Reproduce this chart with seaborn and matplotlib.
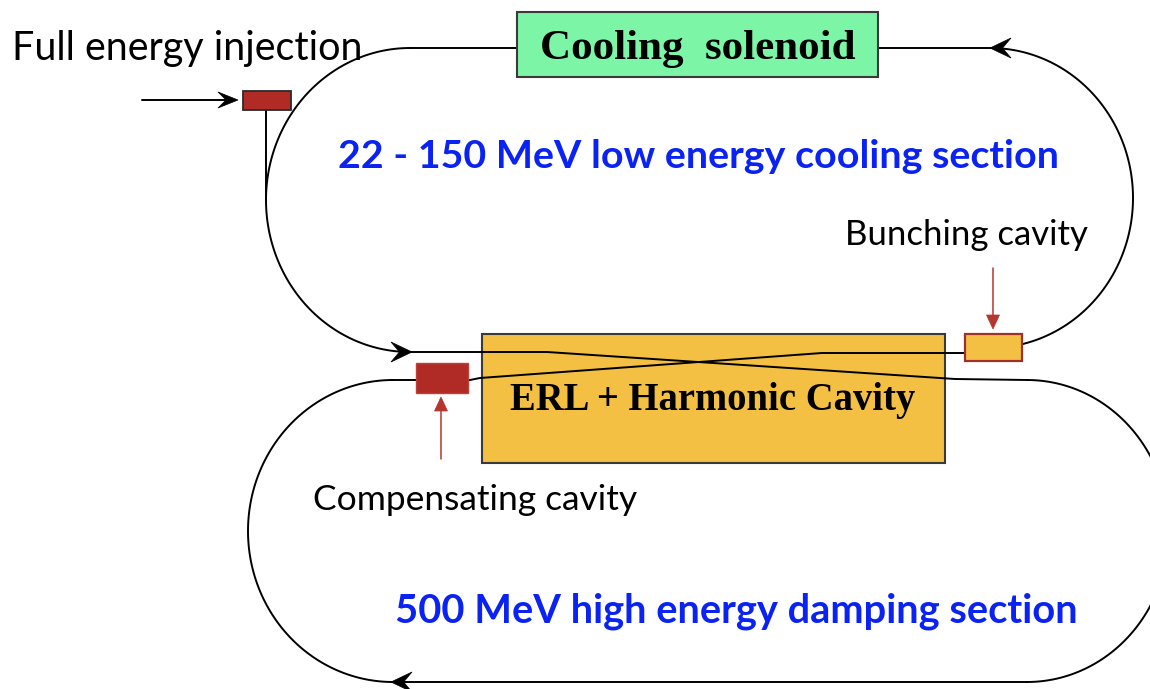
import numpy as np
import matplotlib
matplotlib.use("Agg")
import matplotlib.pyplot as plt
from matplotlib.patches import Rectangle, Polygon
import seaborn as sns

# 文字标签（内容）
label_inject = "Full energy injection"
label_solenoid = "Cooling  solenoid"
label_low = "22 - 150 MeV low energy cooling section"
label_bunch = "Bunching cavity"
label_erl = "ERL + Harmonic Cavity"
label_comp = "Compensating cavity"
label_high = "500 MeV high energy damping section"

# 颜色
c_blue = "#0A22F2"
c_red = "#B02A26"
c_orange = "#F4C043"
c_green = "#7CF5A6"
c_arrow_red = "#B5362E"

sns.set_theme(style="white")
plt.rcParams["font.family"] = ["Lato", "DejaVu Sans"]

fig = plt.figure(figsize=(11.5, 6.89), dpi=100)
ax = fig.add_axes([0, 0, 1, 1])
ax.set_xlim(0, 1150)
ax.set_ylim(689, 0)
ax.axis("off")


def track(xs, ys):
    sns.lineplot(x=np.asarray(xs, float), y=np.asarray(ys, float), sort=False,
                 estimator=None, color="black", lw=1.4, ax=ax, zorder=4)


def arc(cx, cy, rx, ry, a0, a1, n=120):
    t = np.radians(np.linspace(a0, a1, n))
    return cx + rx * np.cos(t), cy + ry * np.sin(t)


def stealth(x, y, ang, length=21, half=10, notch=0.6, color="black"):
    # 箭头：ang 为指向角度（度，像素坐标系，y 向下）
    a = np.radians(ang)
    d = np.array([np.cos(a), np.sin(a)])
    p = np.array([-d[1], d[0]])
    tip = np.array([x, y])
    back = tip - d * length
    pts = [tip, back + p * half, tip - d * length * notch, back - p * half]
    ax.add_patch(Polygon(pts, closed=True, fc=color, ec=color, lw=0.5, zorder=6))


def small_arrow(x, y0, y1, color):
    # 红色小箭头：从 y0 指向 y1
    sgn = 1 if y1 > y0 else -1
    ax.plot([x, x], [y0, y1 - sgn * 10], color=color, lw=1.1, zorder=5)
    ax.add_patch(Polygon([[x, y1], [x - 6.5, y1 - sgn * 14], [x + 6.5, y1 - sgn * 14]],
                         closed=True, fc=color, ec=color, lw=0.5, zorder=6))


# ---- 上环（低能冷却段） ----
track([410, 517], [48, 48])
track([878, 992], [48, 48])
x, y = arc(410, 200, 144, 152, 270, 90)
track(x, y)
stealth(412, 352, 0)
x, y = arc(990, 198, 143, 150, -90, 77)
track(x, y)
stealth(990, 48, 180)

# ---- 交叉直线段（ERL 内） ----
track([410, 547, 955, 1027], [352, 352, 379, 380])
track([390, 470, 480, 822, 965], [380, 380, 378, 353, 353])

# ---- 下环（高能阻尼段） ----
x, y = arc(393, 531, 145, 151, 90, 270)
track(x, y)
track([393, 1027], [682, 682])
stealth(391, 682, 180)
x, y = arc(1027, 531, 142, 151, -90, 90)
track(x, y)

# 注入线
ax.plot([266, 266], [110, 200], color="black", lw=1.4, zorder=4)
ax.plot([142, 225], [100, 100], color="black", lw=1.4, zorder=4)
stealth(238, 100, 0, length=20, half=8)

# ---- 方框 ----
ax.add_patch(Rectangle((482, 334), 463, 129, fc=c_orange, ec="#3a3a3a", lw=1.5, zorder=2))
ax.add_patch(Rectangle((517, 12), 361, 65, fc=c_green, ec="#3a3a3a", lw=1.5, zorder=5))
ax.add_patch(Rectangle((965, 334), 57, 27, fc=c_orange, ec="#A0302A", lw=1.6, zorder=5))
ax.add_patch(Rectangle((416, 363), 52, 30, fc=c_red, ec="#C04038", lw=1.0, zorder=5))
ax.add_patch(Rectangle((243, 91), 48, 19, fc=c_red, ec="#2a2a2a", lw=1.3, zorder=5))

small_arrow(993, 268, 329, c_arrow_red)
small_arrow(441, 459, 397, c_arrow_red)

# ---- 文字：按参考图宽度自动调整字号 ----
renderer = fig.canvas.get_renderer()


def fit_text(txt, x0, x1, y, **kw):
    t = ax.text(x0, y, txt, ha="left", va="baseline", fontsize=20, zorder=7, **kw)
    w = t.get_window_extent(renderer).width
    t.set_fontsize(20 * (x1 - x0) / w)
    return t


fit_text(label_inject, 12, 365, 60, color="black")
fit_text(label_bunch, 845, 1088, 245, color="black")
fit_text(label_comp, 313, 638, 510, color="black")
fit_text(label_low, 338, 1058, 168, color=c_blue, fontweight="bold")
fit_text(label_high, 395, 1080, 622, color=c_blue, fontweight="bold")
fit_text(label_solenoid, 540, 855, 59, color="black", fontweight="bold",
         family=["Liberation Serif", "DejaVu Serif"])
fit_text(label_erl, 510, 915, 410, color="black", fontweight="bold",
         family=["Liberation Serif", "DejaVu Serif"])

fig.savefig("out.png", dpi=100, facecolor="white")
